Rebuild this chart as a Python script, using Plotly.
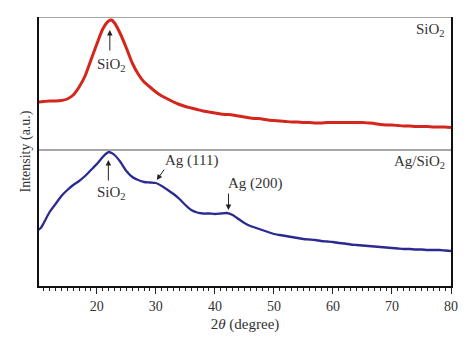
import plotly.graph_objects as go

# 2theta (degree)
two_theta_sio2 = [10, 11, 12, 13, 14, 15, 16, 17, 18, 19, 20, 21, 22, 22.5, 23, 24, 25, 26, 27, 28, 29,
                  30, 31, 32, 33, 34, 35, 36, 37, 38, 39, 40, 41, 42, 43, 44, 45, 46, 47, 48, 49,
                  50, 51, 52, 53, 54, 55, 56, 57, 58, 59, 60, 61, 62, 63, 64, 65, 66, 67, 68, 69,
                  70, 71, 72, 73, 74, 75, 76, 77, 78, 79, 80]
# intensity (a.u., offset for stacking)
intensity_sio2 = [184, 184.5, 185, 185, 185.5, 187, 191, 199, 210, 226, 242, 257, 265, 266, 263, 252, 238, 223, 212, 204, 199,
                  194, 190, 187, 184, 181.5, 179.5, 178, 176.5, 175, 174, 173, 172, 171.5, 171, 170, 169, 168, 167.5, 167, 166,
                  165.5, 165, 164.5, 164, 164, 163.5, 163.5, 163, 163, 163.5, 163.5, 163.5, 163.5, 163.5, 163.5, 163.5, 163, 162.5, 161.5, 161,
                  161, 160.5, 160, 160, 159.5, 159.5, 159.5, 159, 159, 159, 158.5]

two_theta_ag = [10, 10.5, 11, 12, 13, 14, 15, 16, 17, 18, 19, 20, 21, 21.5, 22, 22.5, 23, 24, 25, 26, 27, 28, 29,
                30, 31, 32, 33, 34, 35, 36, 37, 38, 39, 40, 41, 42, 43, 44, 45, 46, 47, 48, 49,
                50, 51, 52, 53, 54, 55, 56, 57, 58, 59, 60, 61, 62, 63, 64, 65, 66, 67, 68, 69,
                70, 71, 72, 73, 74, 75, 76, 77, 78, 79, 80]
intensity_ag = [56, 58, 63, 74, 82, 90, 96, 101, 105, 110, 116, 122, 129, 132, 134, 133, 131, 124, 115, 109, 106, 104, 103.5,
                103, 100, 96, 92, 87, 81, 76, 73.5, 72.5, 72.5, 72, 72.5, 73, 71, 67, 63, 60, 58, 56, 54,
                52, 51, 50, 49, 48, 47, 46.5, 46, 45, 44.5, 44, 43, 42.5, 41.5, 41, 40.5, 40, 39.5, 39, 38.5,
                38, 37.5, 37, 37, 36.5, 36.5, 36, 36, 36, 35.5, 35]

tick_vals = [20, 30, 40, 50, 60, 70, 80]
tick_text = ["20", "30", "40", "50", "60", "70", "80"]

serif = "Liberation Serif"

fig = go.Figure()
fig.add_trace(go.Scatter(x=two_theta_sio2, y=intensity_sio2, mode="lines",
                         line=dict(color="#d3261d", width=3, shape="spline", smoothing=0.6),
                         showlegend=False, hoverinfo="skip"))
fig.add_trace(go.Scatter(x=two_theta_ag, y=intensity_ag, mode="lines",
                         line=dict(color="#2b2a90", width=2.3, shape="spline", smoothing=0.6),
                         showlegend=False, hoverinfo="skip"))

# top border and panel divider (gray)
fig.add_shape(type="line", xref="paper", yref="y", x0=0, x1=1, y0=269, y1=269,
              line=dict(color="#8a8a8a", width=1.5))
fig.add_shape(type="line", xref="paper", yref="y", x0=0, x1=1, y0=136, y1=136,
              line=dict(color="#8a8a8a", width=1.5))

font_ann = dict(family=serif, size=15, color="#333333")

# panel labels
fig.add_annotation(x=79.3, y=256, text="SiO<sub>2</sub>", showarrow=False,
                   xanchor="right", yanchor="middle", font=font_ann)
fig.add_annotation(x=79.3, y=124, text="Ag/SiO<sub>2</sub>", showarrow=False,
                   xanchor="right", yanchor="middle", font=font_ann)

# peak labels with arrows
arrow_kw = dict(showarrow=True, arrowhead=2, arrowsize=1.1, arrowwidth=1,
                arrowcolor="#222222", axref="x", ayref="y", standoff=0, startstandoff=0)
fig.add_annotation(x=22.2, y=256, ax=22.2, ay=234, text="", **arrow_kw)
fig.add_annotation(x=22.5, y=221, text="SiO<sub>2</sub>", showarrow=False, font=font_ann)

fig.add_annotation(x=21.95, y=126, ax=21.95, ay=104, text="", **arrow_kw)
fig.add_annotation(x=22.5, y=93, text="SiO<sub>2</sub>", showarrow=False, font=font_ann)

fig.add_annotation(x=30.15, y=106, ax=31.6, ay=118, text="", **arrow_kw)
fig.add_annotation(x=36.1, y=126, text="Ag (111)", showarrow=False, font=font_ann)

fig.add_annotation(x=42.3, y=76, ax=42.3, ay=94, text="", **arrow_kw)
fig.add_annotation(x=46.8, y=103, text="Ag (200)", showarrow=False, font=font_ann)

fig.update_layout(
    width=474, height=352,
    margin=dict(l=39, r=23, t=17, b=66),
    paper_bgcolor="white", plot_bgcolor="white",
    font=dict(family=serif, size=14, color="#333333"),
    xaxis=dict(range=[10.2, 80], tickvals=tick_vals, ticktext=tick_text,
               ticks="outside", ticklen=6, tickwidth=1.2, tickcolor="#222222",
               minor=dict(dtick=1, tick0=10, ticks="outside", ticklen=3, tickwidth=1, tickcolor="#222222"),
               showline=True, linecolor="#111111", linewidth=2, mirror=False,
               showgrid=False, zeroline=False,
               tickfont=dict(family=serif, size=14, color="#333333"),
               title=dict(text="2<i>θ</i> (degree)", font=dict(family=serif, size=15, color="#333333"),
                          standoff=6)),
    yaxis=dict(range=[0, 269], showticklabels=False, ticks="",
               showline=True, linecolor="#111111", linewidth=2, mirror=True,
               showgrid=False, zeroline=False,
               title=dict(text="Intensity (a.u.)", font=dict(family=serif, size=14, color="#333333"),
                          standoff=3)),
)

fig.write_html("out.html")
